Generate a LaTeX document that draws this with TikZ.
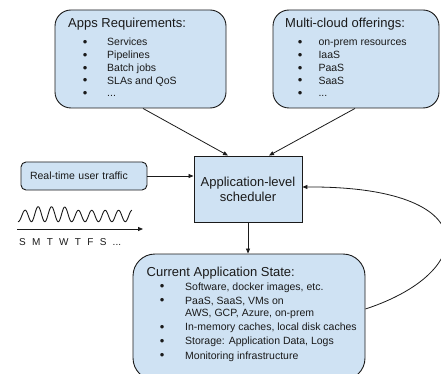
\documentclass[tikz,border=0pt]{standalone}
\usepackage{fontspec}
\setmainfont{Liberation Sans}
\usetikzlibrary{arrows.meta}
\definecolor{paleblue}{HTML}{CFE2F3}
\definecolor{ink}{HTML}{1A1A1A}
\newcommand{\bitem}[2]{\makebox[#1][l]{\raisebox{-0.6pt}{\fontsize{13}{13}\selectfont\textbullet}}#2}
\newcommand{\titlefont}{\fontsize{13}{15}\selectfont}
\newcommand{\itemfont}{\fontsize{10.5}{12.75}\selectfont}
\newcommand{\dg}{\hspace{6.3pt}}
\begin{document}
\begin{tikzpicture}[x=1pt,y=-1pt,
  rbox/.style={draw=ink, line width=0.9pt, fill=paleblue, rounded corners=#1},
  sqbox/.style={draw=ink, line width=0.9pt, fill=paleblue},
  arr/.style={draw=ink, line width=0.8pt, -{Triangle[length=5pt,width=4pt]}},
  txt/.style={anchor=base west, inner sep=0pt, text=ink}]
\useasboundingbox (0,0) rectangle (441,374);
\begin{scope}
\clip (0,0) rectangle (441,374);
% boxes
\node[rbox=16pt, minimum width=171pt, minimum height=98pt] (apps) at (140.5,59) {};
\node[rbox=16pt, minimum width=166pt, minimum height=98pt] (multi) at (356,59) {};
\node[sqbox, minimum width=108pt, minimum height=66pt, align=center, font=\titlefont, text=ink] (sched) at (248,189) {Application-level\\scheduler};
\node[rbox=5pt, minimum width=126pt, minimum height=28pt, text width=108pt, inner xsep=9pt, align=left, font=\itemfont, text=ink] (traffic) at (84,176) {Real-time user traffic};
\node[rbox=22pt, minimum width=232pt, minimum height=126pt] (state) at (249,317) {};
% texts
\node[txt, font=\titlefont] (appstitle) at (68,28) {Apps Requirements:};
\node[txt, font=\itemfont] (appslist) at (82.7,46) {\begin{tabular}[t]{@{}l@{}}
\bitem{24.3pt}{Services}\\
\bitem{24.3pt}{Pipelines}\\
\bitem{24.3pt}{Batch jobs}\\
\bitem{24.3pt}{SLAs and QoS}\\
\bitem{24.3pt}{...}
\end{tabular}};
\node[txt, font=\titlefont] (multititle) at (285,28) {Multi-cloud offerings:};
\node[txt, font=\itemfont] (multilist) at (297.7,46) {\begin{tabular}[t]{@{}l@{}}
\bitem{20.6pt}{on-prem resources}\\
\bitem{20.6pt}{IaaS}\\
\bitem{20.6pt}{PaaS}\\
\bitem{20.6pt}{SaaS}\\
\bitem{20.6pt}{...}
\end{tabular}};
\node[txt, font=\titlefont] (statetitle) at (146.5,276) {Current Application State:};
\node[txt, font=\fontsize{10.5}{14.2}\selectfont] (statelist) at (159.7,290) {\begin{tabular}[t]{@{}l@{}}
\bitem{25.3pt}{Software, docker images, etc.}\\
\bitem{25.3pt}{PaaS, SaaS, VMs on}\\[-2pt]
\hspace{25.3pt}AWS, GCP, Azure, on-prem\\
\bitem{25.3pt}{In-memory caches, local disk caches}\\
\bitem{25.3pt}{Storage: Application Data, Logs}\\
\bitem{25.3pt}{Monitoring infrastructure}
\end{tabular}};
% traffic wave and timeline
\draw[ink, line width=0.9pt] plot[smooth, domain=0:1, samples=220, variable=\t]
  ({18+114*\t},{221.7-(7.5-3.5*max(0,1-\t/0.12)-1.8*min(1,max(0,(\t-0.4)*10)))*(1-cos(3060*\t))});
\coordinate (t0) at (17,229);
\coordinate (t1) at (143,229);
\draw[arr] (t0) -- (t1);
\node[txt, font=\fontsize{10}{12}\selectfont] (days) at (19,245) {S\dg M\dg T\dg W\dg T\dg F\dg S\dg ...};
% connectors
\draw[arr] ([xshift=2.5pt]apps.south) -- ([xshift=-20pt]sched.north);
\draw[arr] ([xshift=-1pt]multi.south) -- ([xshift=21pt]sched.north);
\draw[arr] (traffic.east) -- (traffic.east -| sched.west);
\draw[arr] (sched.south) -- (state.north -| sched.south);
\draw[arr] ([yshift=8pt]state.east) .. controls (478,272) and (486,186) .. ([yshift=2pt]sched.east);
\end{scope}
\end{tikzpicture}
\end{document}
